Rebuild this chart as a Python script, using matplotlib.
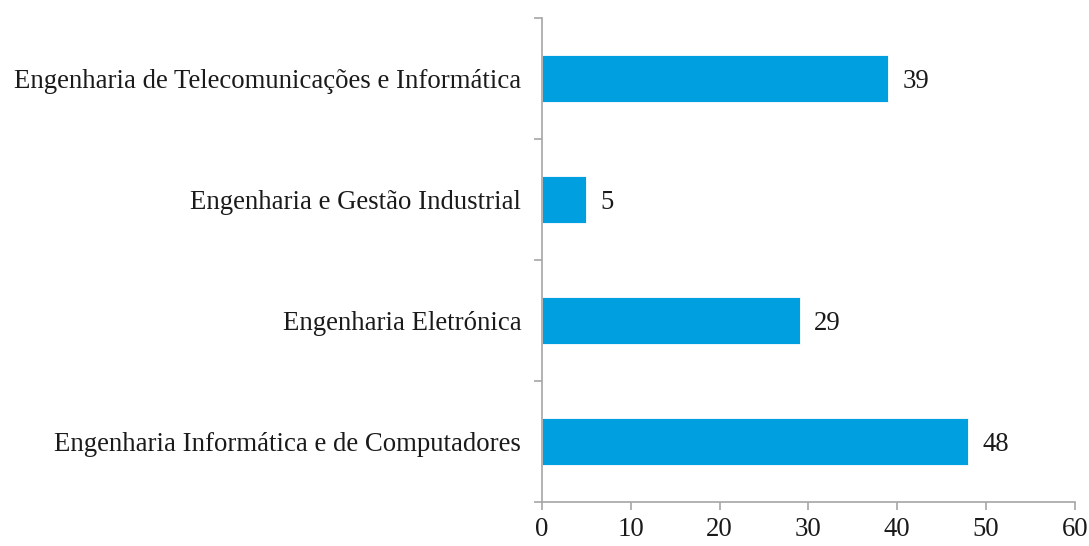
import matplotlib.pyplot as plt
from matplotlib.ticker import FixedLocator
import numpy as np

plt.rcParams["font.family"] = ["Liberation Serif", "DejaVu Serif"]

courses = [
    "Engenharia Informática e de Computadores",
    "Engenharia Eletrónica",
    "Engenharia e Gestão Industrial",
    "Engenharia de Telecomunicações e Informática",
]
counts = [48, 29, 5, 39]

bar_color = "#009FDF"
axis_color = "#A6A6A6"
text_color = "#1A1A1A"
fs = 19.3

fig = plt.figure(figsize=(10.89, 5.46), dpi=100)
ax = fig.add_axes([0.4977, 0.0806, 0.4894, 0.8864])

y = np.arange(len(courses))
bars = ax.barh(y, counts, height=0.39, color=bar_color, edgecolor="white", linewidth=0.6)

for bar, v in zip(bars, counts):
    ax.annotate(str(v), (bar.get_width(), bar.get_y() + bar.get_height() / 2),
                xytext=(10, 0), textcoords="offset points",
                ha="left", va="center_baseline", fontsize=fs, color=text_color)

ax.set_xlim(0, 60)
ax.set_ylim(-0.5, len(courses) - 0.5)
ax.set_xticks(np.arange(0, 61, 10))
ax.set_yticks(y)
ax.set_yticklabels(courses)
ax.yaxis.set_minor_locator(FixedLocator(np.arange(-0.5, len(courses), 1.0)))

ax.tick_params(axis="y", which="major", length=0, pad=15, labelsize=fs, labelcolor=text_color)
ax.tick_params(axis="y", which="minor", length=6, color=axis_color, width=1.2)
ax.tick_params(axis="x", which="major", length=6, color=axis_color, width=1.2,
               pad=5, labelsize=fs, labelcolor=text_color)

for side in ("top", "right"):
    ax.spines[side].set_visible(False)
for side in ("left", "bottom"):
    ax.spines[side].set_color(axis_color)
    ax.spines[side].set_linewidth(1.2)

fig.savefig("out.png", dpi=100)
